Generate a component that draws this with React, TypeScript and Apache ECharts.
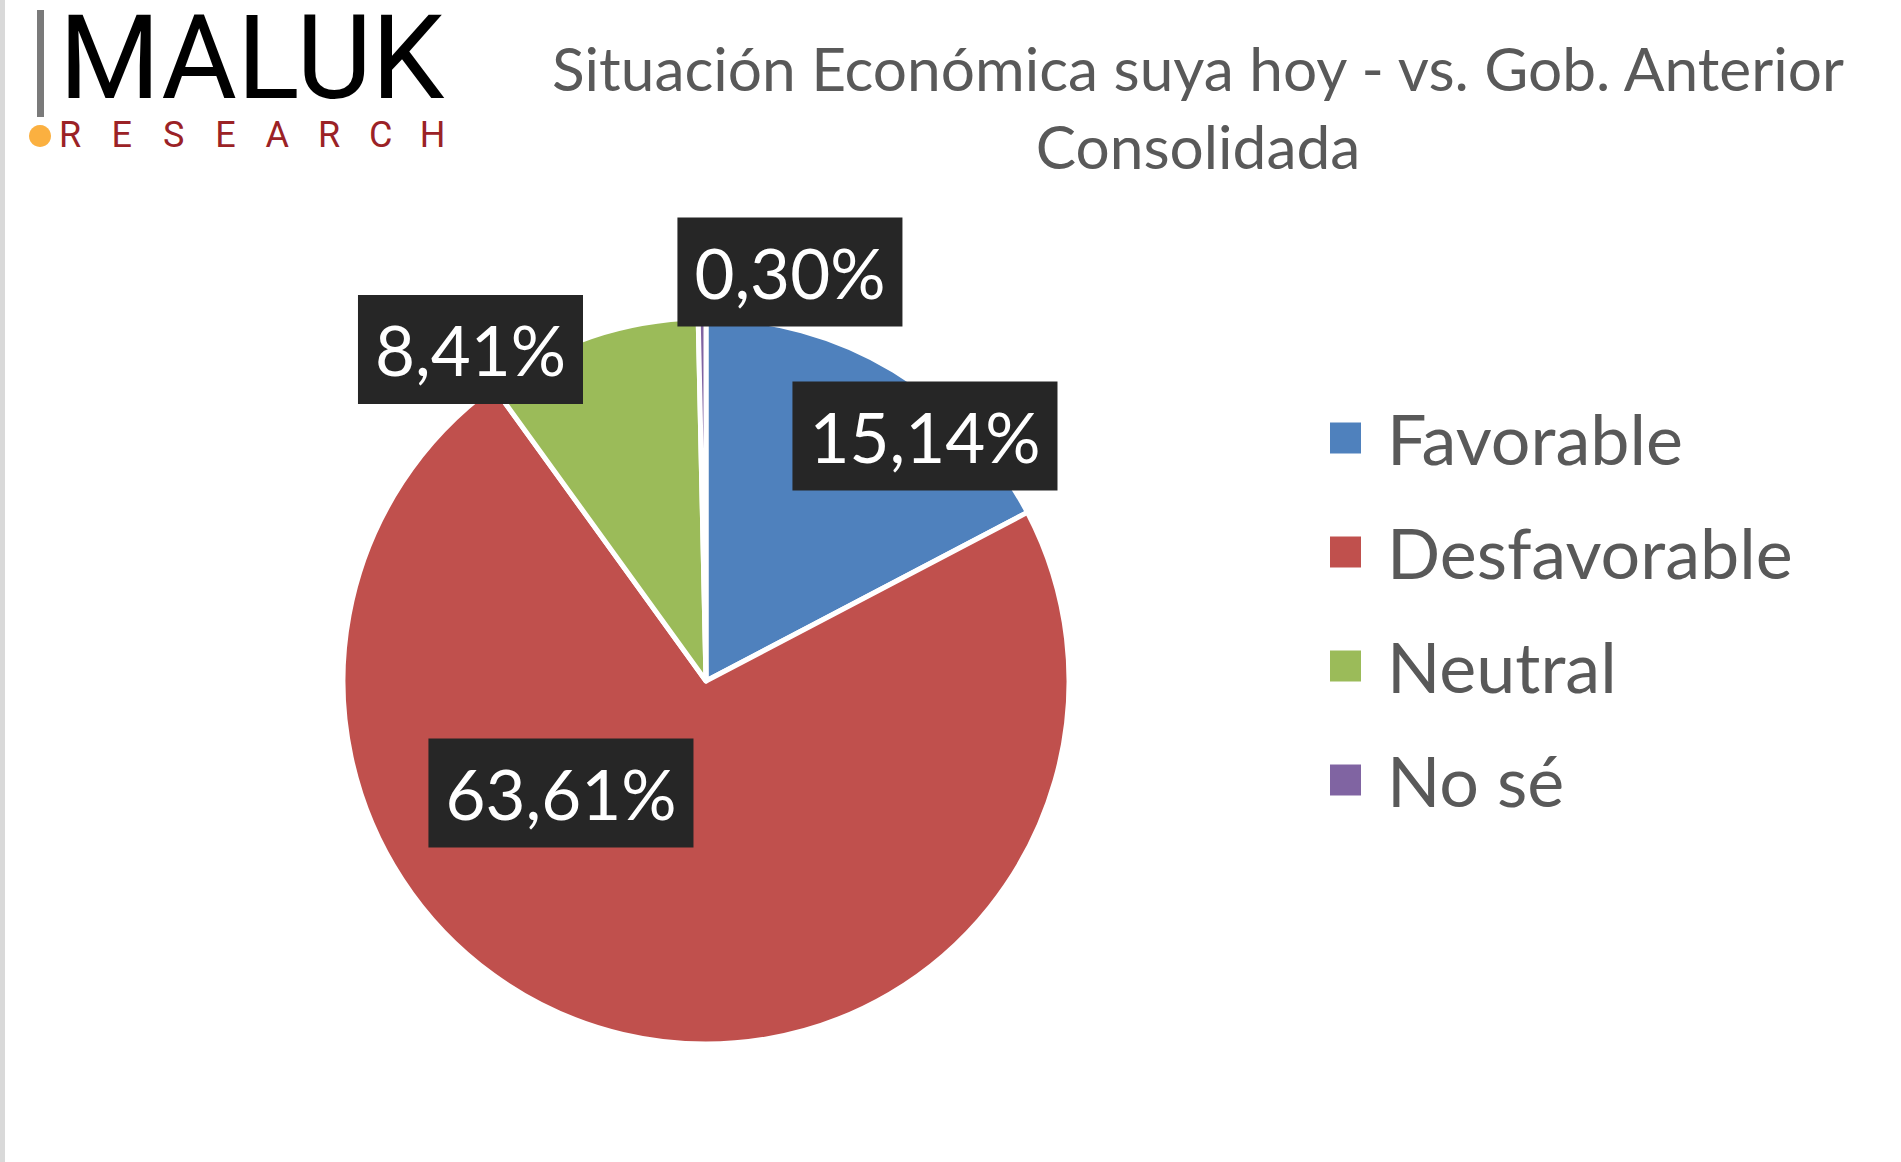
import React, { useEffect, useRef } from "react";
import * as echarts from "echarts";

const categories = ["Favorable", "Desfavorable", "Neutral", "No sé"];
const values = [15.14, 63.61, 8.41, 0.3];
const colors = ["#4f81bd", "#c0504d", "#9bbb59", "#8064a2"];
const titleLines = ["Situación Económica suya hoy - vs. Gob. Anterior", "Consolidada"];
const logoWord = "MALUK";
const logoSub = "RESEARCH";

const W = 1901;
const H = 1162;
const CX = 706;
const CY = 681;
const R = 363;
const FONT = "Lato, 'Open Sans', sans-serif";
// label placement: degrees clockwise from 12 o'clock, fraction of radius
const labelPlacement = [
  { angle: 41.8, frac: 0.905 },
  { angle: 232.3, frac: 0.505 },
  { angle: 324.6, frac: 1.12 },
  { angle: 11.6, frac: 1.15 },
];

export default function App() {
  const ref = useRef<HTMLDivElement>(null);
  useEffect(() => {
    document.body.style.margin = "0";
    document.body.style.overflow = "hidden";
    if (!ref.current) return;
    const chart = echarts.init(ref.current, null, { renderer: "svg" });
    const graphic: any[] = [
      { type: "rect", shape: { x: 0, y: 0, width: 5, height: H }, style: { fill: "#d9d9d9" } },
      { type: "rect", shape: { x: 37, y: 10, width: 7, height: 107 }, style: { fill: "#7a7a7a" } },
      {
        type: "text",
        x: 59,
        y: 58,
        style: {
          text: logoWord,
          fontFamily: "Roboto, sans-serif",
          fontSize: 116,
          lineHeight: 96,
          fill: "#000",
          align: "left",
          verticalAlign: "middle",
        },
      },
      { type: "circle", shape: { cx: 40, cy: 136, r: 11 }, style: { fill: "#fbb040" } },
      ...logoSub.split("").map((ch, i) => ({
        type: "text",
        x: 70 + i * 51.8,
        y: 135,
        style: {
          text: ch,
          fontFamily: "Roboto, sans-serif",
          fontSize: 36,
          lineHeight: 30,
          fill: "#9b2226",
          align: "center",
          verticalAlign: "middle",
        },
      })),
    ];
    chart.setOption({
      animation: false,
      backgroundColor: "#ffffff",
      title: {
        text: titleLines.join("\n"),
        left: 1198,
        top: 28,
        textAlign: "center",
        padding: 0,
        textStyle: {
          fontFamily: FONT,
          fontSize: 60.4,
          fontWeight: "normal",
          color: "#595959",
          lineHeight: 78,
        },
      },
      legend: {
        orient: "vertical",
        left: 1325,
        top: 398,
        icon: "rect",
        itemWidth: 31,
        itemHeight: 31,
        itemGap: 44,
        itemStyle: { borderWidth: 0 },
        data: categories,
        selectedMode: false,
        textStyle: {
          fontFamily: FONT,
          fontSize: 70,
          color: "#595959",
          lineHeight: 68,
          padding: [0, 0, 0, 21],
        },
      },
      graphic,
      series: [
        {
          type: "pie",
          center: [CX, CY],
          radius: R,
          startAngle: 90,
          clockwise: true,
          emphasis: { disabled: true },
          itemStyle: { borderColor: "#ffffff", borderWidth: 5 },
          data: categories.map((n, i) => ({ name: n, value: values[i], itemStyle: { color: colors[i] } })),
          label: {
            show: true,
            position: "inside",
            formatter: (p: any) => p.value.toFixed(2).replace(".", ",") + "%",
            color: "#ffffff",
            fontFamily: FONT,
            fontSize: 69,
            lineHeight: 75,
            backgroundColor: "#262626",
            padding: [17, 17],
          },
          labelLine: { show: false },
          labelLayout: (p: any) => {
            const pl = labelPlacement[p.dataIndex];
            const a = (pl.angle * Math.PI) / 180;
            return {
              x: CX + Math.sin(a) * R * pl.frac,
              y: CY - Math.cos(a) * R * pl.frac,
              align: "center",
              verticalAlign: "middle",
            };
          },
        },
      ],
    });
    return () => chart.dispose();
  }, []);
  return <div ref={ref} style={{ width: W, height: H }} />;
}
